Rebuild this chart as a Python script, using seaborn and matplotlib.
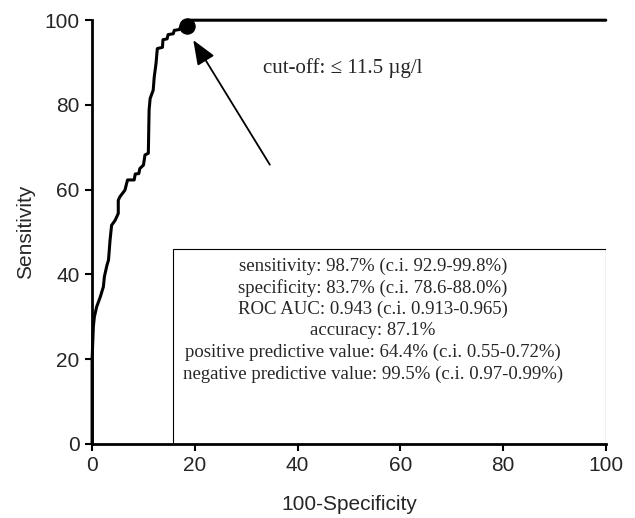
import matplotlib
matplotlib.use("Agg")
import matplotlib.pyplot as plt
import pandas as pd
import seaborn as sns

# ROC curve (100-specificity, sensitivity)
fpr = [0, 0, 0.25, 0.45, 0.9, 1.6, 2.2, 2.4, 2.9, 3.2, 3.5, 3.8, 4.5, 5.1, 5.1, 5.4,
       6.4, 6.9, 8.2, 8.4, 9.1, 9.3, 10.0, 10.3, 10.95, 11.1, 11.3, 11.9, 12.1, 12.45,
       12.7, 13.7, 13.8, 14.6, 14.8, 15.8, 16.0, 17.0, 17.2, 18.4, 18.6, 100]
tpr = [0, 19.8, 27.7, 30.0, 32.4, 34.7, 37.1, 39.5, 42.2, 43.4, 48.1, 51.6, 52.8, 54.4, 57.5, 58.3,
       59.9, 62.3, 62.3, 63.7, 63.8, 65.0, 65.8, 68.2, 68.6, 78.8, 81.5, 83.5, 86.6, 89.8,
       93.3, 93.6, 95.4, 95.6, 96.6, 96.8, 97.6, 97.8, 98.4, 98.7, 100, 100]

cutoff_x = [18.4]
cutoff_y = [98.7]
cutoff_label = "cut-off: \u2264 11.5 \u00b5g/l"

stats_lines = [
    "sensitivity: 98.7% (c.i. 92.9-99.8%)",
    "specificity: 83.7% (c.i. 78.6-88.0%)",
    "ROC AUC: 0.943 (c.i. 0.913-0.965)",
    "accuracy: 87.1%",
    "positive predictive value: 64.4% (c.i. 0.55-0.72%)",
    "negative predictive value: 99.5% (c.i. 0.97-0.99%)",
]

roc = pd.DataFrame({"fpr": fpr, "tpr": tpr})

sns.set_style("ticks")
plt.rcParams['font.family'] = ['Liberation Sans', 'DejaVu Sans']

fig = plt.figure(figsize=(6.35, 5.18), dpi=100)
ax = fig.add_axes([0.145, 0.143, 0.809, 0.818])

sns.lineplot(x="fpr", y="tpr", data=roc, sort=False, estimator=None,
             color="black", linewidth=2.2, ax=ax)
ax.lines[0].set_clip_on(False)  # keep the y=100 line full width
sns.scatterplot(x=cutoff_x, y=cutoff_y, color="black", s=120, edgecolor="black",
                zorder=5, clip_on=False, ax=ax)

# stats box
box = plt.Rectangle((15.7, 0), 84.3, 46, fill=False, edgecolor="black", linewidth=0.8,
                    zorder=3)
ax.add_patch(box)
for i, line in enumerate(stats_lines):
    ax.text(54.7, 42.0 - i * 5.1, line, ha="center", va="center",
            fontsize=13.5, family="Liberation Serif")

ax.annotate("", xy=(19.7, 95.3), xytext=(34.6, 65.9),
            arrowprops=dict(arrowstyle="-|>,head_length=0.75,head_width=0.3",
                            color="black", lw=1.3, mutation_scale=20,
                            shrinkA=0, shrinkB=0))
ax.text(33.2, 88.8, cutoff_label, ha="left", va="center", fontsize=15,
        family="Liberation Serif")

ax.set_xlim(0, 100)
ax.set_ylim(0, 100)
ax.set_xticks([0, 20, 40, 60, 80, 100])
ax.set_yticks([0, 20, 40, 60, 80, 100])
ax.tick_params(labelsize=15, length=5, width=1.5, direction="out", pad=4, color="black")
ax.set_xlabel("100-Specificity", fontsize=15, labelpad=14)
ax.set_ylabel("Sensitivity", fontsize=15, labelpad=7)
sns.despine(ax=ax)
for sp in ["left", "bottom"]:
    ax.spines[sp].set_linewidth(2)
    ax.spines[sp].set_color("black")

fig.savefig("out.png", dpi=100)
